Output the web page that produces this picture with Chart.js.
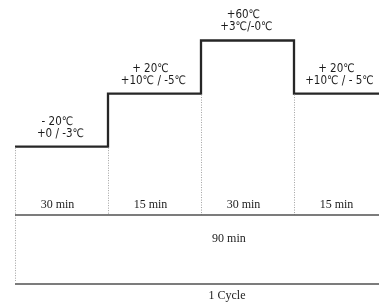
<!DOCTYPE html>
<html>
<head>
<meta charset="utf-8">
<script src="https://cdn.jsdelivr.net/npm/chart.js@4"></script>
<style>
  html, body { margin: 0; padding: 0; background: #fff; overflow: hidden; }
  #wrap { width: 379px; height: 304px; overflow: hidden; }
</style>
</head>
<body>
<div id="wrap"><canvas id="cycle" width="387" height="304"></canvas></div>
<script>
// ===== DATA ===== //
const phaseDurations = ['30 min', '15 min', '30 min', '15 min'];
const phaseTemps = [-20, 20, 60, 20];
const phaseSetpoints = ['- 20℃', '+ 20℃', '+60℃', '+ 20℃'];
const phaseTolerances = ['+0 / -3℃', '+10℃ / -5℃', '+3℃/-0℃', '+10℃ / - 5℃'];
const totalLabel = '90 min';
const cycleLabel = '1 Cycle';

// step points: one at the start of each phase, plus the end of the last one
const stepPoints = phaseTemps.map((t, i) => ({ x: i, y: t }));
stepPoints.push({ x: phaseTemps.length, y: phaseTemps[phaseTemps.length - 1] });

const SERIF = "'Liberation Serif', 'DejaVu Serif', serif";
const NARROW = "'Liberation Sans Narrow', 'DejaVu Sans Condensed', 'Liberation Sans', sans-serif";

// ===== ANNOTATIONS (dividers, time rows, labels) ===== //
const cycleAnnotations = {
  id: 'cycleAnnotations',
  afterDatasetsDraw(chart) {
    const { ctx, chartArea, scales: { x, y } } = chart;
    const axisY = chartArea.bottom;
    const right = chart.width;
    const left = Math.round(x.getPixelForValue(0));
    ctx.save();

    // dotted dividers between phases
    ctx.strokeStyle = '#a0a0a0';
    ctx.lineWidth = 1;
    ctx.setLineDash([1, 1.5]);
    phaseTemps.forEach((t, i) => {
      const prev = i > 0 ? phaseTemps[i - 1] : t;
      const top = y.getPixelForValue(Math.min(t, prev)) + 1;
      const bottom = i === 0 ? axisY + 66 : axisY;
      const px = Math.round(x.getPixelForValue(i)) + 0.5;
      ctx.beginPath();
      ctx.moveTo(px, top);
      ctx.lineTo(px, bottom);
      ctx.stroke();
    });

    // time rows
    ctx.setLineDash([]);
    ctx.strokeStyle = '#505050';
    ctx.lineWidth = 1.5;
    [axisY, axisY + 69].forEach(ly => {
      ctx.beginPath();
      ctx.moveTo(left, ly);
      ctx.lineTo(right, ly);
      ctx.stroke();
    });

    ctx.fillStyle = '#1c1c1c';
    ctx.textAlign = 'center';
    ctx.textBaseline = 'middle';

    // durations per phase
    ctx.font = '12px ' + SERIF;
    phaseDurations.forEach((d, i) => {
      ctx.fillText(d, x.getPixelForValue(i + 0.5) - 4, axisY - 10);
    });
    ctx.fillText(totalLabel, x.getPixelForValue(2.3), axisY + 24);
    ctx.fillText(cycleLabel, x.getPixelForValue(2.28), axisY + 81);

    // temperature labels over each level
    ctx.font = '11.5px ' + NARROW;
    phaseTemps.forEach((t, i) => {
      const cx = x.getPixelForValue(i + 0.5);
      const ly = y.getPixelForValue(t);
      ctx.fillText(phaseSetpoints[i], cx - 4, ly - 25);
      ctx.fillText(phaseTolerances[i], cx - 1, ly - 13);
    });

    ctx.restore();
  }
};

// ===== CHART ===== //
new Chart(document.getElementById('cycle'), {
  type: 'line',
  data: {
    datasets: [{
      data: stepPoints,
      stepped: 'before',
      borderColor: '#262626',
      borderWidth: 2.3,
      pointRadius: 0,
      fill: false
    }]
  },
  options: {
    responsive: false,
    animation: false,
    layout: { padding: { left: 15, right: 0, top: 0, bottom: 89 } },
    plugins: { legend: { display: false }, tooltip: { enabled: false } },
    scales: {
      x: { type: 'linear', min: 0, max: phaseTemps.length, display: false },
      y: { min: -71.5, max: 90.5, display: false }
    }
  },
  plugins: [cycleAnnotations]
});
</script>
</body>
</html>
